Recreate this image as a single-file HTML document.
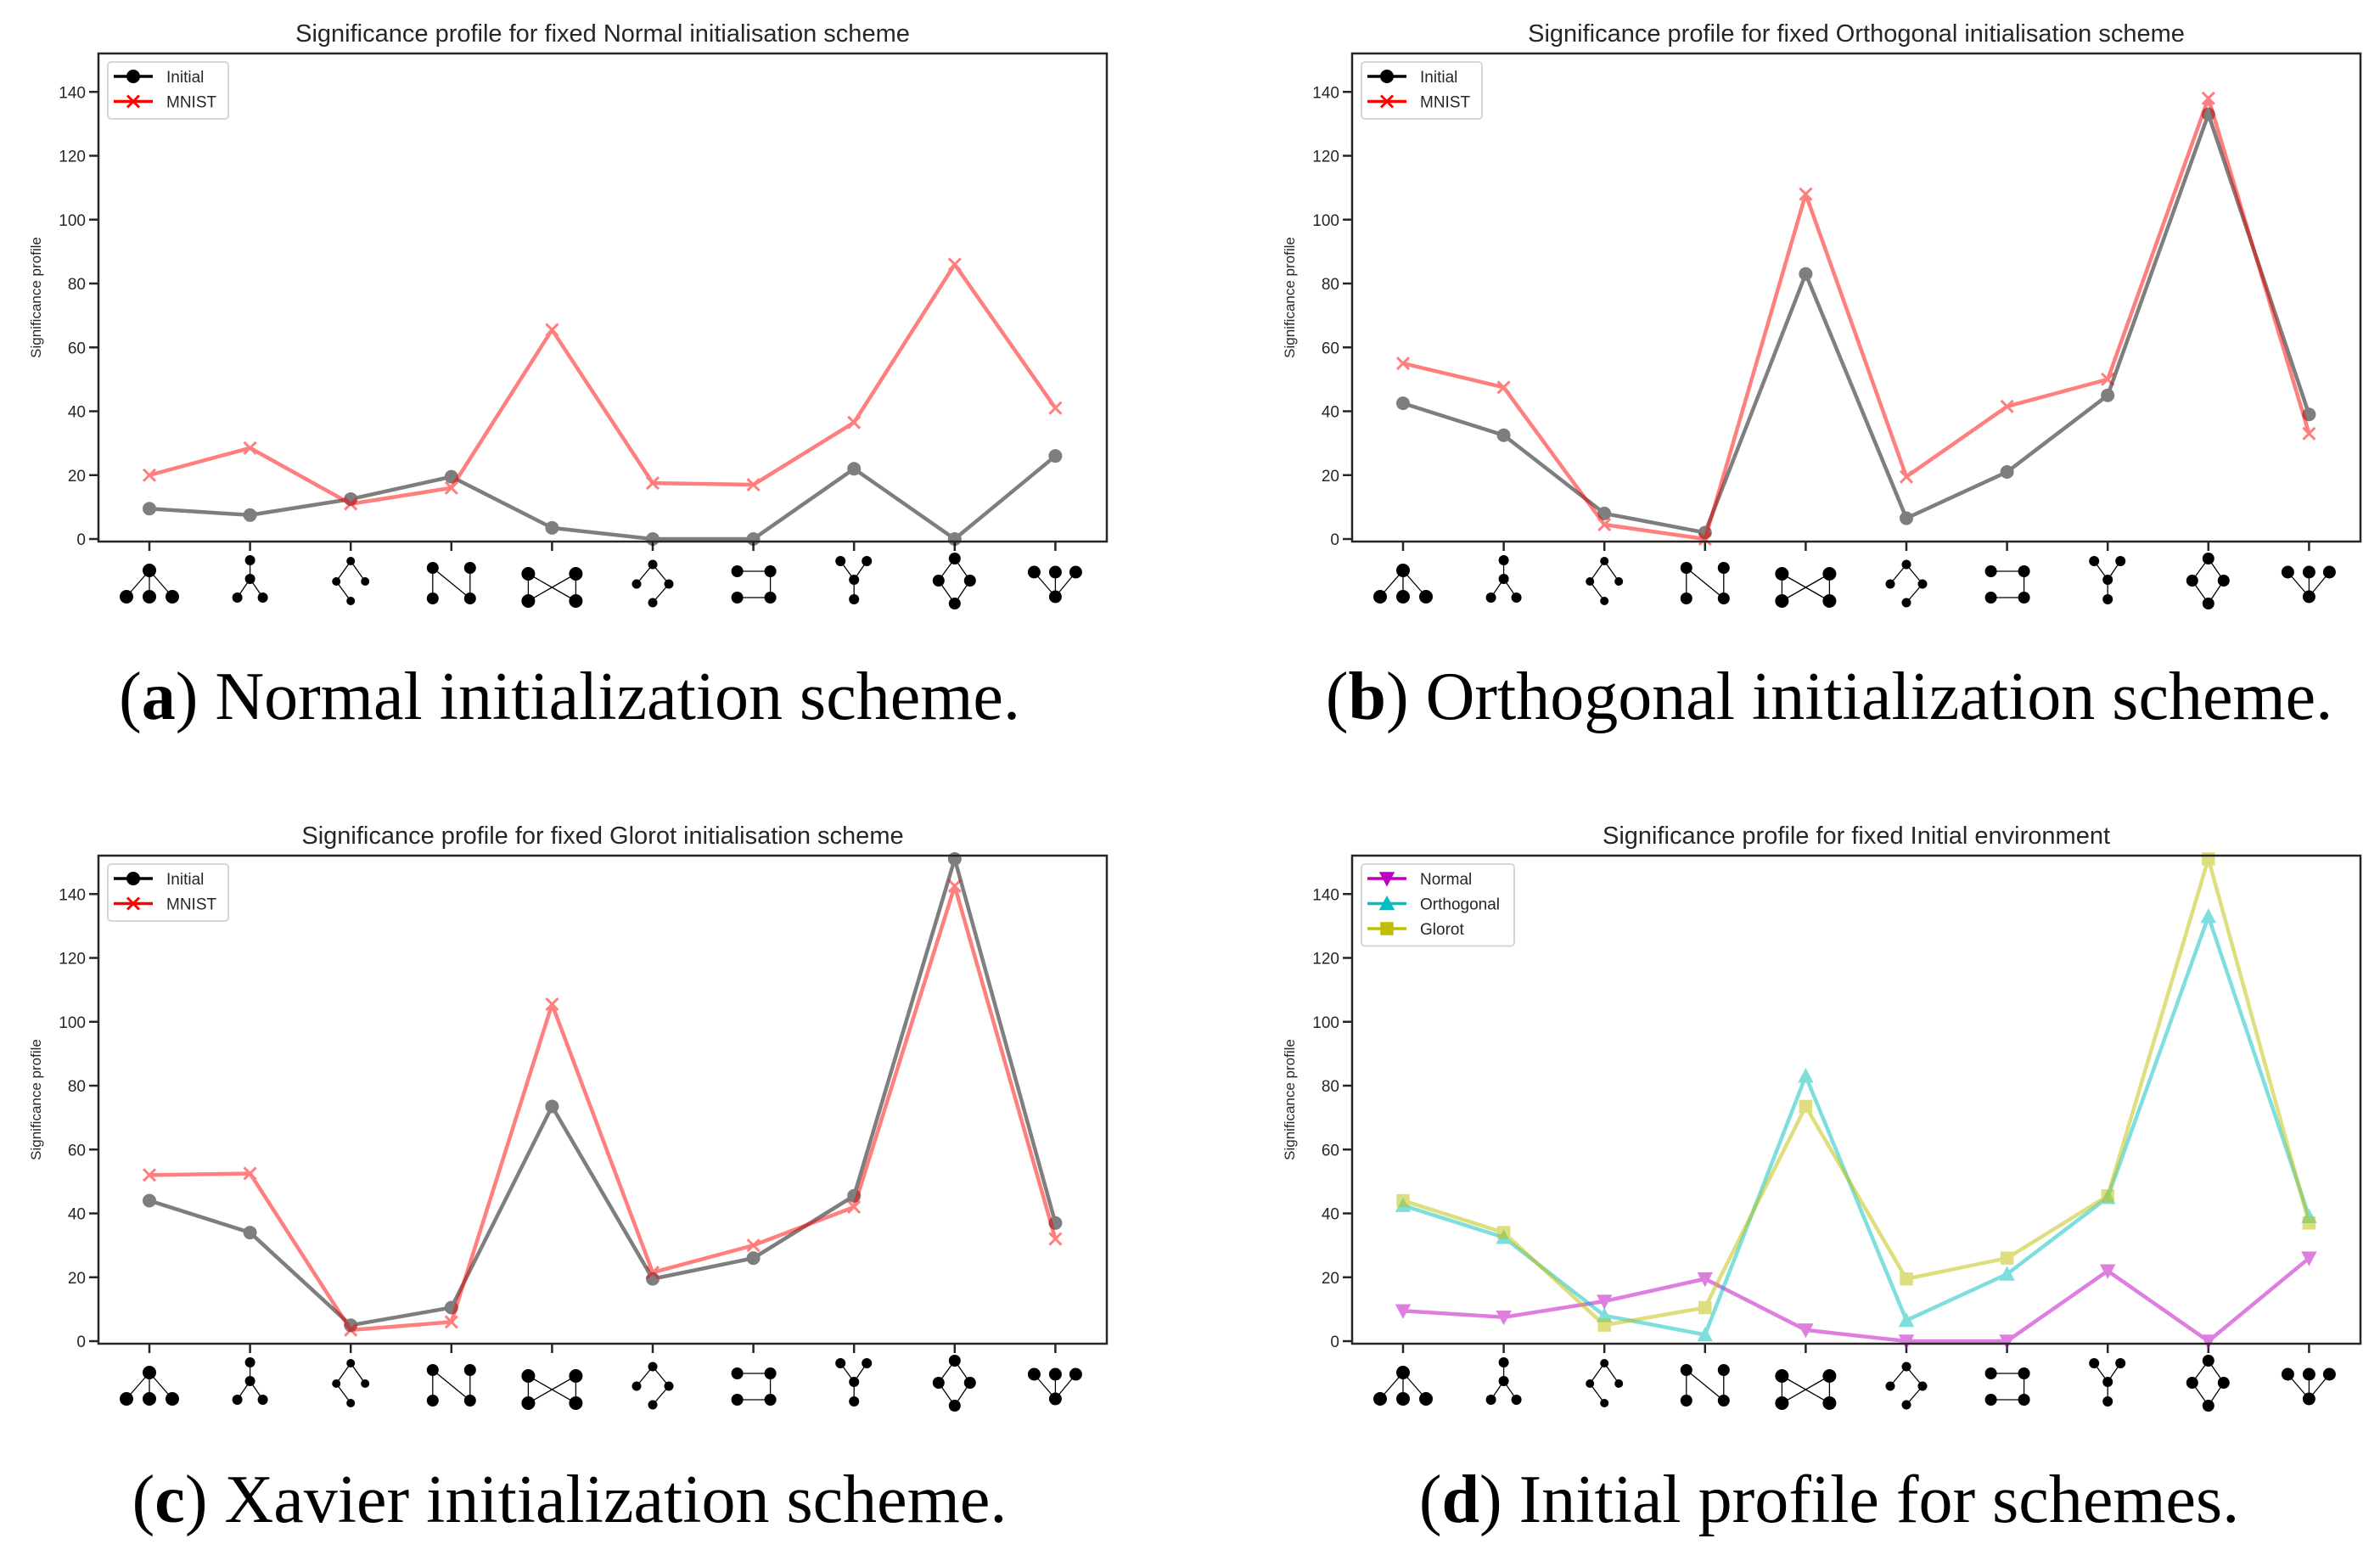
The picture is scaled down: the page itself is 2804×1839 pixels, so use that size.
<!DOCTYPE html>
<html><head><meta charset="utf-8">
<style>
html,body{margin:0;padding:0;background:#fff;}
svg{display:block;}
text{font-family:"Liberation Sans",Arial,sans-serif;}
.cap{font-family:"Liberation Serif",serif;font-size:80px;fill:#000;}
</style></head>
<body>
<svg id="fig" width="2804" height="1839" viewBox="0 0 2804 1839" xmlns="http://www.w3.org/2000/svg">
<text class="cap" x="671" y="847" text-anchor="middle">(<tspan font-weight="bold">a</tspan>) Normal initialization scheme.</text>
<text class="cap" x="2155" y="847" text-anchor="middle">(<tspan font-weight="bold">b</tspan>) Orthogonal initialization scheme.</text>
<text class="cap" x="671" y="1793" text-anchor="middle">(<tspan font-weight="bold">c</tspan>) Xavier initialization scheme.</text>
<text class="cap" x="2155" y="1793" text-anchor="middle">(<tspan font-weight="bold">d</tspan>) Initial profile for schemes.</text>
</svg>
<script>
const yTicks = [0, 20, 40, 60, 80, 100, 120, 140];
const normalInitial = [9.5, 7.5, 12.5, 19.5, 3.5, 0, 0, 22, 0, 26];
const normalMnist = [20, 28.5, 11, 16, 65.5, 17.5, 17, 36.5, 86, 41];
const orthoInitial = [42.5, 32.5, 8, 2, 83, 6.5, 21, 45, 133, 39];
const orthoMnist = [55, 47.5, 4.5, 0, 108, 19.5, 41.5, 50, 138, 33];
const glorotInitial = [44, 34, 5, 10.5, 73.5, 19.5, 26, 45.5, 151, 37];
const glorotMnist = [52, 52.5, 3.5, 6, 105.5, 21.5, 30, 42, 142.5, 32];

const NS = 'http://www.w3.org/2000/svg';
const svg = document.getElementById('fig');
function mk(tag, attrs, parent) {
  const e = document.createElementNS(NS, tag);
  for (const k in attrs) e.setAttribute(k, attrs[k]);
  (parent || svg).appendChild(e);
  return e;
}
const W = 1188, H = 575;
const motifs = [
  {n:[[0,34,8],[-27,65,8],[0,65,8],[27,65,8]], e:[[0,1],[0,2],[0,3]]},
  {n:[[0,22,6],[0,44,6],[-15,66,6],[15,66,6]], e:[[0,1],[1,2],[1,3]]},
  {n:[[0,23,5],[-17,47,5],[17,47,5],[0,70,5]], e:[[0,1],[0,2],[1,3]]},
  {n:[[-22,31,7],[22,31,7],[-22,67,7],[22,67,7]], e:[[0,2],[0,3],[1,3]]},
  {n:[[-28,38,8],[28,38,8],[-28,70,8],[28,70,8]], e:[[0,2],[0,3],[1,2],[1,3]]},
  {n:[[0,27,5.5],[-19,50,5.5],[19,50,5.5],[0,72,5.5]], e:[[0,1],[0,2],[2,3]]},
  {n:[[-19,35,7],[20,35,7],[-19,66,7],[20,66,7]], e:[[0,1],[1,3],[3,2]]},
  {n:[[-16,23,6],[15,23,6],[0,45,6],[0,68,6]], e:[[0,2],[1,2],[2,3]]},
  {n:[[0,20,7],[-19,46,7],[18,46,7],[0,73,7]], e:[[0,1],[0,2],[1,3],[2,3]]},
  {n:[[-25,36,7.5],[0,36,7.5],[24,36,7.5],[0,65,7.5]], e:[[0,3],[1,3],[2,3]]}
];
function panel(L, T, title, series, legW, name) {
  const g = mk('g', {});
  
  
  const xS = i => L + 60 + i * 118.6;
  const yS = v => T + 572 - v * 75.25 / 20;
  const t = mk('text', {x: L + W/2, y: T - 14, 'text-anchor':'middle', 'font-size':29, fill:'#262626'}, g);
  t.textContent = title;
  
  
  const yl = mk('text', {x: 0, y: 0, transform:`translate(${L-68},${T+H/2}) rotate(-90)`, 'text-anchor':'middle', 'font-size':17, fill:'#262626'}, g);
  yl.textContent = 'Significance profile';
  
  
  yTicks.forEach(v => {
    mk('line', {x1:L-11, x2:L, y1:yS(v), y2:yS(v), stroke:'#262626', 'stroke-width':2.5}, g);
    const tl = mk('text', {x:L-15, y:yS(v)+7, 'text-anchor':'end', 'font-size':19, fill:'#262626'}, g);
    tl.textContent = String(v);
    
    
  });
  motifs.forEach((m, i) => {
    const cx = xS(i), by = T + H;
    mk('line', {x1:cx, x2:cx, y1:by, y2:by+11, stroke:'#262626', 'stroke-width':2.5}, g);
    const mg = mk('g', {}, g);
    
    
    m.e.forEach(([a,b]) => {
      mk('line', {x1:cx+m.n[a][0], y1:by+m.n[a][1], x2:cx+m.n[b][0], y2:by+m.n[b][1], stroke:'#000', 'stroke-width':1.3}, mg);
    });
    m.n.forEach(([dx,dy,r]) => mk('circle', {cx:cx+dx, cy:by+dy, r:r, fill:'#000'}, mg));
  });
  series.forEach(s => {
    const sg = mk('g', {opacity:0.5}, g);
    
    
    const pts = s.data.map((v,i) => xS(i)+','+yS(v)).join(' ');
    mk('polyline', {points:pts, fill:'none', stroke:s.color, 'stroke-width':4.5, 'stroke-linejoin':'round'}, sg);
    s.data.forEach((v,i) => marker(sg, s.m, xS(i), yS(v), s.color));
  });
  mk('rect', {x:L, y:T, width:W, height:H, fill:'none', stroke:'#262626', 'stroke-width':2.5}, g);
  const lg = mk('g', {}, g);
  
  
  mk('rect', {x:L+11, y:T+10, width:legW, height:series.length*29.5+8, rx:4, fill:'#fff', 'fill-opacity':0.8, stroke:'#d6d6d6', 'stroke-width':2}, lg);
  series.forEach((s,k) => {
    const y = T + 27 + k*29.5;
    mk('line', {x1:L+18, x2:L+64, y1:y, y2:y, stroke:s.color, 'stroke-width':3.5}, lg);
    marker(lg, s.m, L+41, y, s.color);
    const lt = mk('text', {x:L+80, y:y+7, 'font-size':19, fill:'#262626'}, lg);
    lt.textContent = s.label;
    
    
  });
}
function marker(g, m, x, y, c) {
  if (m === 'o') mk('circle', {cx:x, cy:y, r:7, fill:c, stroke:c, 'stroke-width':2}, g);
  else if (m === 'x') {
    mk('line', {x1:x-7, y1:y-7, x2:x+7, y2:y+7, stroke:c, 'stroke-width':3}, g);
    mk('line', {x1:x-7, y1:y+7, x2:x+7, y2:y-7, stroke:c, 'stroke-width':3}, g);
  } else if (m === 'v') mk('polygon', {points:`${x-8},${y-7} ${x+8},${y-7} ${x},${y+8}`, fill:c, stroke:c, 'stroke-width':1.5}, g);
  else if (m === '^') mk('polygon', {points:`${x-8},${y+7} ${x+8},${y+7} ${x},${y-8}`, fill:c, stroke:c, 'stroke-width':1.5}, g);
  else if (m === 's') mk('rect', {x:x-7, y:y-7, width:14, height:14, fill:c, stroke:c, 'stroke-width':1.5}, g);
}
panel(116, 63, 'Significance profile for fixed Normal initialisation scheme',
  [{label:'Initial', data:normalInitial, color:'#000', m:'o'}, {label:'MNIST', data:normalMnist, color:'#ff0000', m:'x'}], 142, 'panel-a');
panel(1593, 63, 'Significance profile for fixed Orthogonal initialisation scheme',
  [{label:'Initial', data:orthoInitial, color:'#000', m:'o'}, {label:'MNIST', data:orthoMnist, color:'#ff0000', m:'x'}], 142, 'panel-b');
panel(116, 1008, 'Significance profile for fixed Glorot initialisation scheme',
  [{label:'Initial', data:glorotInitial, color:'#000', m:'o'}, {label:'MNIST', data:glorotMnist, color:'#ff0000', m:'x'}], 142, 'panel-c');
panel(1593, 1008, 'Significance profile for fixed Initial environment',
  [{label:'Normal', data:normalInitial, color:'#bf00bf', m:'v'}, {label:'Orthogonal', data:orthoInitial, color:'#00bfbf', m:'^'}, {label:'Glorot', data:glorotInitial, color:'#bfbf00', m:'s'}], 180, 'panel-d');
</script>
</body></html>
